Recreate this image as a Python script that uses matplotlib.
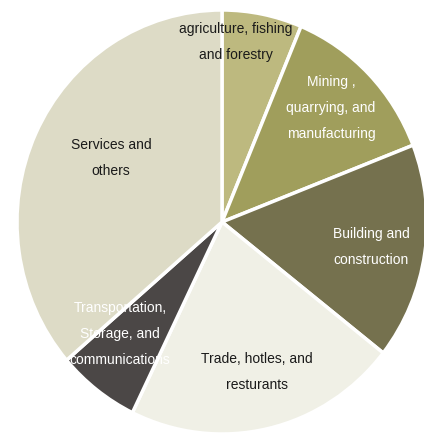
import matplotlib
matplotlib.use("Agg")
import matplotlib.pyplot as plt

plt.rcParams['font.family'] = ['Liberation Sans', 'DejaVu Sans']

# sector shares of output (%), clockwise from 12 o'clock
sectors = ["agriculture, fishing\nand forestry",
           "Mining ,\nquarrying, and\nmanufacturing",
           "Building and\nconstruction",
           "Trade, hotles, and\nresturants",
           "Transportation,\nStorage, and\ncommunications",
           "Services and\nothers"]
shares = [6.3, 12.8, 16.5, 21.6, 6.5, 36.3]
colors = ["#bdb97f", "#a09e5c", "#75714e", "#f0f0e6", "#4b4746", "#dddbc6"]
text_colors = ["#1a1a1a", "white", "white", "#1a1a1a", "white", "#1a1a1a"]
# label anchor points inside each wedge (pie units)
label_xy = [(0.068, 0.849), (0.532, 0.538), (0.727, -0.118),
            (0.171, -0.708), (-0.498, -0.528), (-0.541, 0.302)]

fig = plt.figure(figsize=(4.24, 4.37), dpi=100)
ax = fig.add_axes([0, 0, 1, 1])

wedges, _ = ax.pie(shares, colors=colors, startangle=90, counterclock=False,
                   radius=1.0, wedgeprops=dict(edgecolor="white", linewidth=2.5))

for name, (x, y), tc in zip(sectors, label_xy, text_colors):
    ax.text(x, y, name, ha="center", va="center", color=tc,
            fontsize=10, linespacing=2.1)

# pie is slightly taller than wide and runs past the right edge
ax.set_aspect("auto")
ax.set_xlim(-222 / 205, (424 - 222) / 205)
ax.set_ylim(-(437 - 222) / 212, 222 / 212)
ax.axis("off")

fig.savefig("out.png", dpi=100)
